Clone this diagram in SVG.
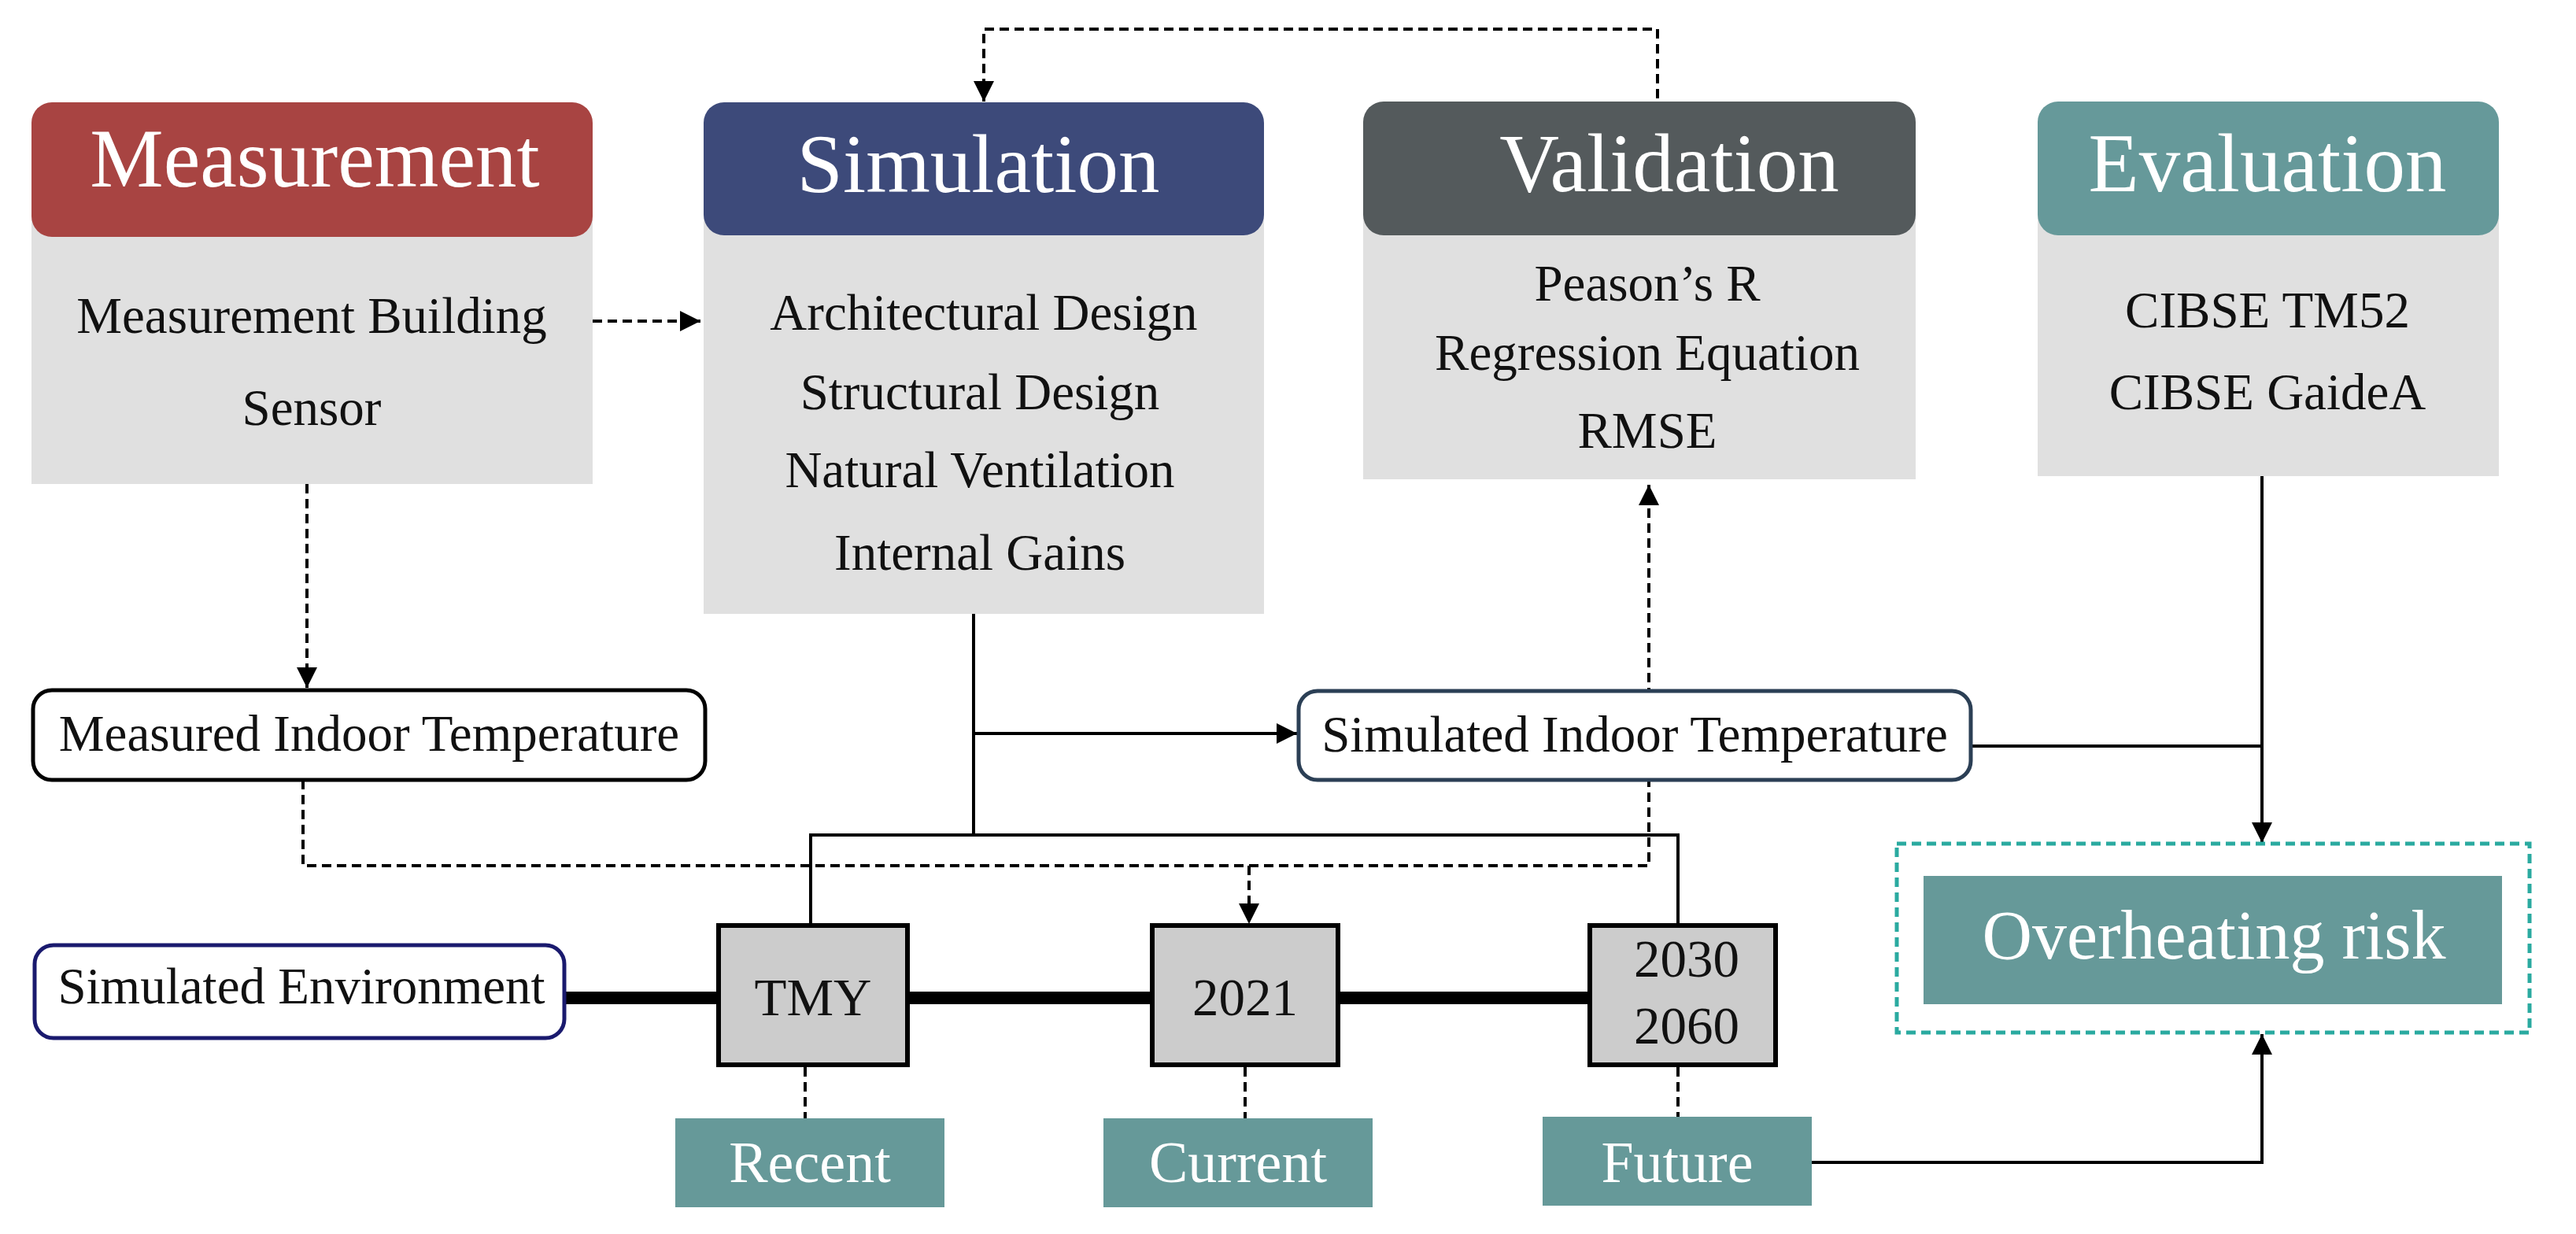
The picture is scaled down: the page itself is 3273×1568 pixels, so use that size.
<svg xmlns="http://www.w3.org/2000/svg" width="3273" height="1568" viewBox="0 0 3273 1568">
<style>
text{font-family:"Liberation Serif","Times New Roman",serif;text-anchor:middle;fill:#111}
.h{font-size:105px;fill:#fff}
.b{font-size:65px}
.y{font-size:67px}
.t{font-size:74px;fill:#fff}
.body{fill:#e0e0e0}
.sol{fill:none;stroke:#000;stroke-width:4}
.das{fill:none;stroke:#000;stroke-width:4;stroke-dasharray:12 7}
.thick{stroke:#000;stroke-width:16}
.pill{fill:#fff;stroke-width:5}
.yr{fill:#cccccc;stroke:#000;stroke-width:6}
.teal{fill:#669999}
</style>
<defs>
<marker id="ah" viewBox="0 0 10 10" refX="10" refY="5" markerWidth="6.5" markerHeight="6.5" orient="auto" markerUnits="strokeWidth"><path d="M0,0 L10,5 L0,10 z" fill="#000"/></marker>
</defs>
<g id="connectors">
<path class="das" d="M2106,125 V37 H1250 V129" marker-end="url(#ah)"/>
<path class="das" d="M753,408 H890" marker-end="url(#ah)"/>
<path class="das" d="M390,615 V874" marker-end="url(#ah)"/>
<path class="das" d="M385,991 V1100 H2095 V616" marker-end="url(#ah)"/>
<path class="das" d="M1587,1100 V1174" marker-end="url(#ah)"/>
<path class="sol" d="M1237,780 V1061"/>
<path class="sol" d="M1237,932 H1648" marker-end="url(#ah)"/>
<path class="sol" d="M1030,1176 V1061 H2132 V1176"/>
<path class="thick" d="M717,1268 H913 M1153,1268 H1464 M1700,1268 H2020"/>
<path class="das" d="M1023,1356 V1421"/>
<path class="das" d="M1582,1356 V1421"/>
<path class="das" d="M2132,1356 V1419"/>
<path class="sol" d="M2504,948 H2874"/>
<path class="sol" d="M2874,605 V1071" marker-end="url(#ah)"/>
<path class="sol" d="M2302,1477 H2874 V1314" marker-end="url(#ah)"/>
</g>
<g id="measurement">
<rect class="body" x="40" y="215" width="713" height="400"/>
<rect x="40" y="130" width="713" height="171" rx="26" fill="#a84442"/>
<text class="h" x="400" y="237">Measurement</text>
<text class="b" x="396" y="423">Measurement Building</text>
<text class="b" x="396" y="540">Sensor</text>
</g>
<g id="simulation">
<rect class="body" x="894" y="215" width="712" height="565"/>
<rect x="894" y="130" width="712" height="169" rx="26" fill="#3d4a7a"/>
<text class="h" x="1243" y="244">Simulation</text>
<text class="b" x="1250" y="419">Architectural Design</text>
<text class="b" x="1245" y="520">Structural Design</text>
<text class="b" x="1245" y="619">Natural Ventilation</text>
<text class="b" x="1245" y="724">Internal Gains</text>
</g>
<g id="validation">
<rect class="body" x="1732" y="215" width="702" height="394"/>
<rect x="1732" y="129" width="702" height="170" rx="26" fill="#545a5c"/>
<text class="h" x="2121" y="243">Validation</text>
<text class="b" x="2093" y="382">Peason’s R</text>
<text class="b" x="2093" y="470">Regression Equation</text>
<text class="b" x="2093" y="569">RMSE</text>
</g>
<g id="evaluation">
<rect class="body" x="2589" y="215" width="586" height="390"/>
<rect x="2589" y="129" width="586" height="170" rx="26" fill="#66999a"/>
<text class="h" x="2881" y="243">Evaluation</text>
<text class="b" x="2881" y="416">CIBSE TM52</text>
<text class="b" x="2881" y="520">CIBSE GaideA</text>
</g>
<g id="measured-indoor">
<rect class="pill" x="42" y="877" width="854" height="114" rx="24" stroke="#000"/>
<text class="b" x="469" y="954">Measured Indoor Temperature</text>
</g>
<g id="simulated-indoor">
<rect class="pill" x="1650" y="878" width="854" height="113" rx="24" stroke="#2b3f55"/>
<text class="b" x="2077" y="955">Simulated Indoor Temperature</text>
</g>
<g id="simulated-env">
<rect class="pill" x="44" y="1201" width="673" height="118" rx="24" stroke="#1a1a6e"/>
<text class="b" x="383" y="1275">Simulated Environment</text>
</g>
<g id="tmy">
<rect class="yr" x="913" y="1176" width="240" height="177"/>
<text class="y" x="1033" y="1290">TMY</text>
</g>
<g id="y2021">
<rect class="yr" x="1464" y="1176" width="236" height="177"/>
<text class="y" x="1582" y="1290">2021</text>
</g>
<g id="y2030">
<rect class="yr" x="2020" y="1176" width="236" height="177"/>
<text class="y" x="2143" y="1241">2030</text>
<text class="y" x="2143" y="1326">2060</text>
</g>
<g id="recent">
<rect class="teal" x="858" y="1421" width="342" height="113"/>
<text class="t" x="1029" y="1502">Recent</text>
</g>
<g id="current">
<rect class="teal" x="1402" y="1421" width="342" height="113"/>
<text class="t" x="1573" y="1502">Current</text>
</g>
<g id="future">
<rect class="teal" x="1960" y="1419" width="342" height="113"/>
<text class="t" x="2131" y="1502">Future</text>
</g>
<g id="overheating">
<rect x="2410" y="1072" width="804" height="240" fill="none" stroke="#2aaaa0" stroke-width="5" stroke-dasharray="12 7"/>
<rect class="teal" x="2444" y="1113" width="735" height="163"/>
<text x="2813" y="1218" style="font-size:88px;fill:#fff">Overheating risk</text>
</g>
</svg>
